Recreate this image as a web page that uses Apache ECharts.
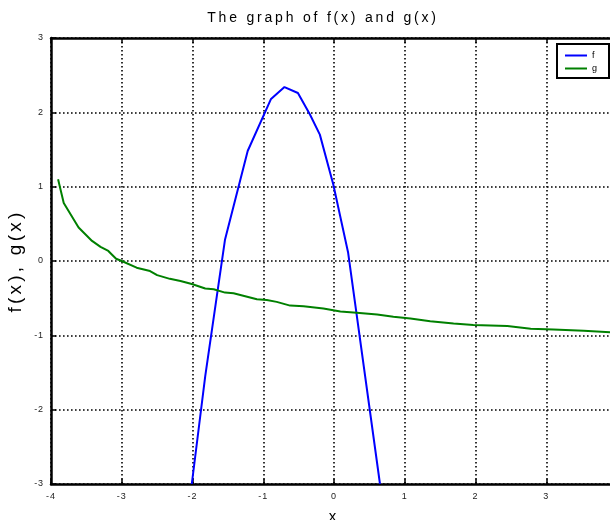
<!DOCTYPE html>
<html>
<head>
<meta charset="utf-8">
<script src="https://cdn.jsdelivr.net/npm/echarts@6/dist/echarts.min.js"></script>
<style>
  html, body { margin: 0; padding: 0; background: #fff; }
  #chart { width: 610px; height: 520px; }
</style>
</head>
<body>
<div id="chart"></div>
<script>
// Sampled points of f(x)
const fX = [-2.01, -1.82, -1.54, -1.22, -0.89, -0.70, -0.51, -0.34, -0.20, -0.01, 0.20, 0.65];
const fY = [-3.00, -1.55, 0.29, 1.48, 2.18, 2.34, 2.26, 1.97, 1.70, 1.03, 0.11, -3.00];

// Sampled points of g(x)
const gX = [-3.90, -3.82, -3.61, -3.42, -3.30, -3.19, -3.08, -3.00, -2.79, -2.60, -2.50, -2.32,
            -2.17, -2.01, -1.82, -1.70, -1.54, -1.42, -1.09, -0.95, -0.81, -0.62, -0.43, -0.15,
            0.09, 0.32, 0.61, 0.84, 1.08, 1.36, 1.69, 1.97, 2.45, 2.78, 3.10, 3.53, 3.91, 4.00];
const gY = [1.10, 0.78, 0.45, 0.27, 0.19, 0.135, 0.03, 0.00, -0.09, -0.135, -0.19, -0.24,
            -0.27, -0.31, -0.37, -0.38, -0.425, -0.435, -0.515, -0.525, -0.55, -0.60, -0.61, -0.64,
            -0.68, -0.695, -0.72, -0.75, -0.775, -0.81, -0.84, -0.86, -0.875, -0.91, -0.92, -0.94, -0.96, -0.97];

const seriesNames = ['f', 'g'];
const titleText = 'The graph of f(x) and g(x)';
const xName = 'x';
const yName = 'f(x), g(x)';

const zip = (xs, ys) => xs.map((x, i) => [x, ys[i]]);

// Wide tracking on chart text: letter spacing proportional to the font size.
(function () {
  const proto = CanvasRenderingContext2D.prototype;
  const origFill = proto.fillText;
  proto.fillText = function (t, x, y, w) {
    const m = /(\d+(?:\.\d+)?)px/.exec(this.font);
    const size = m ? parseFloat(m[1]) : 12;
    const em = size >= 17 ? 0.17 : (size >= 12 ? 0.2 : 0.1);
    this.letterSpacing = (size * em).toFixed(2) + 'px';
    if (w === undefined) origFill.call(this, t, x, y);
    else origFill.call(this, t, x, y, w);
    this.letterSpacing = '0px';
  };
})();

const font = 'Arial, "Liberation Sans", Helvetica, sans-serif';
const dotted = { color: '#000', width: 1.6, type: [1.6, 2.4] };
const frame = { color: '#000', width: 2.5 };
const tick = { inside: true, length: 5, lineStyle: { color: '#000', width: 1.5 } };

const chart = echarts.init(document.getElementById('chart'), null, { renderer: 'canvas' });
chart.setOption({
  animation: false,
  backgroundColor: '#fff',
  title: {
    text: titleText,
    left: 318, top: 6, textAlign: 'center',
    textStyle: { fontFamily: font, fontSize: 14, fontWeight: 'normal', color: '#000' }
  },
  legend: {
    data: seriesNames.map(n => ({ name: n, icon: 'rect' })),
    orient: 'vertical',
    left: 557, top: 44,
    itemWidth: 22, itemHeight: 2, itemGap: 4,
    padding: [7, 12, 5, 8],
    borderColor: '#000', borderWidth: 2,
    backgroundColor: '#fff',
    textStyle: { fontFamily: font, fontSize: 9, color: '#000' }
  },
  grid: { left: 51, top: 38, width: 566, height: 446, containLabel: false, outerBoundsMode: 'none' },
  xAxis: [{
    type: 'value', min: -4, max: 4, interval: 1,
    name: xName, nameLocation: 'middle', nameGap: 25,
    nameTextStyle: { fontFamily: font, fontSize: 15, color: '#000' },
    axisLine: { onZero: false, lineStyle: frame },
    axisTick: tick,
    axisLabel: { fontFamily: font, fontSize: 9, color: '#222', margin: 8 },
    splitLine: { show: true, lineStyle: dotted }
  }, {
    type: 'value', position: 'top', min: -4, max: 4, interval: 1,
    axisLine: { onZero: false, lineStyle: frame },
    axisTick: tick,
    axisLabel: { show: false },
    splitLine: { show: false }
  }],
  yAxis: {
    type: 'value', min: -3, max: 3, interval: 1,
    name: yName, nameLocation: 'middle', nameGap: 20, nameRotate: 90,
    nameTextStyle: { fontFamily: font, fontSize: 19, color: '#000' },
    axisLine: { onZero: false, lineStyle: frame },
    axisTick: tick,
    axisLabel: { fontFamily: font, fontSize: 9, color: '#222', margin: 7 },
    splitLine: { show: true, lineStyle: dotted }
  },
  series: [{
    name: seriesNames[0], type: 'line', data: zip(fX, fY),
    showSymbol: false, clip: true,
    lineStyle: { color: '#0000ff', width: 2 }, itemStyle: { color: '#0000ff' }
  }, {
    name: seriesNames[1], type: 'line', data: zip(gX, gY),
    showSymbol: false, clip: true,
    lineStyle: { color: '#008000', width: 2 }, itemStyle: { color: '#008000' }
  }]
});
</script>
</body>
</html>
